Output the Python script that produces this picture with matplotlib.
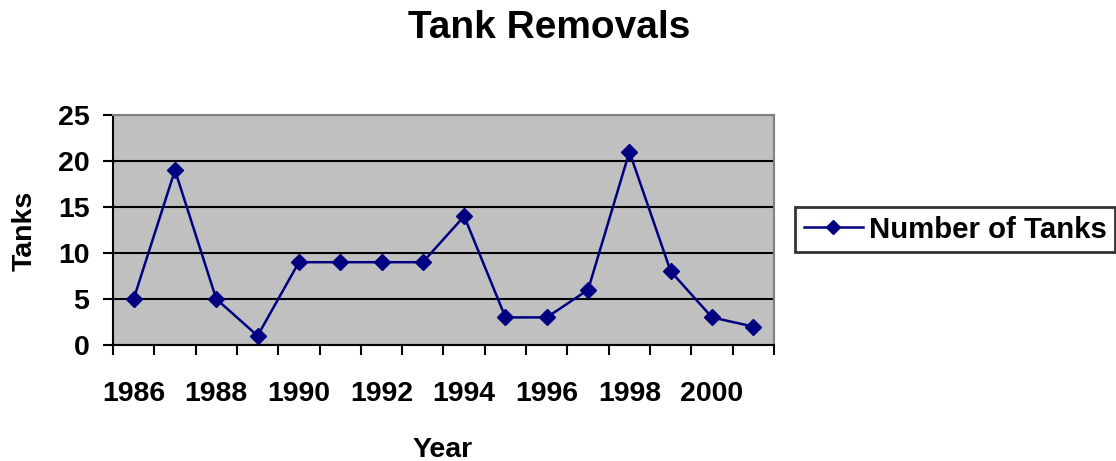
import numpy as np
import matplotlib
matplotlib.use("Agg")
import matplotlib.pyplot as plt


years = list(range(1986, 2002))
tanks = [5, 19, 5, 1, 9, 9, 9, 9, 14, 3, 3, 6, 21, 8, 3, 2]
y_ticks = [0, 5, 10, 15, 20, 25]

plt.rcParams['font.family'] = ['Liberation Sans', 'DejaVu Sans']
plt.rcParams['font.weight'] = 'bold'

fig = plt.figure(figsize=(11.16, 4.61), dpi=100)
ax = fig.add_axes([113 / 1116, 1 - 345 / 461, (774 - 113) / 1116, (345 - 115) / 461])

x = np.arange(len(years))
ax.set_facecolor('#C0C0C0')
ax.plot(x, tanks, color='#000080', marker='D', markersize=8.5, linewidth=1.8,
        label='Number of Tanks', zorder=3)

# gridlines
ax.set_ylim(0, 25)
ax.set_yticks(y_ticks)
ax.yaxis.grid(True, color='black', linewidth=1.5)
ax.set_axisbelow(True)

# category axis: tick marks on the boundaries, labels every other year
ax.set_xlim(-0.5, len(years) - 0.5)
ax.set_xticks(x[::2])
ax.set_xticklabels([str(y) for y in years[::2]])
ax.set_xticks(np.arange(len(years) + 1) - 0.5, minor=True)
ax.tick_params(axis='x', which='major', length=0, pad=26, labelsize=20.5)
ax.tick_params(axis='x', which='minor', length=7, width=1.5, direction='out')
ax.tick_params(axis='y', length=7, width=1.5, direction='out', pad=10, labelsize=20.5)

for side in ['left', 'bottom']:
    ax.spines[side].set_color('black')
    ax.spines[side].set_linewidth(1.5)
for side in ['top', 'right']:
    ax.spines[side].set_color('#808080')
    ax.spines[side].set_linewidth(1.5)

fig.text(549 / 1116, 1 - 38 / 461, 'Tank Removals', ha='center', va='baseline',
         fontsize=28, fontweight='bold')
fig.text(443 / 1116, 1 - 457 / 461, 'Year', ha='center', va='baseline',
         fontsize=20.5, fontweight='bold')
fig.text(25 / 1116, 230 / 461, 'Tanks', ha='center', va='center', rotation=90,
         fontsize=20.5, fontweight='bold')

leg = ax.legend(loc='center left', bbox_to_anchor=(795 / 1116, 1 - 229.5 / 461),
                bbox_transform=fig.transFigure, fontsize=21.2, frameon=True,
                fancybox=False, edgecolor='black', handlelength=2.0,
                handletextpad=0.2, borderpad=0.3, borderaxespad=0, markerscale=0.8)
leg.get_frame().set_linewidth(2)

fig.savefig('out.png', dpi=100)
